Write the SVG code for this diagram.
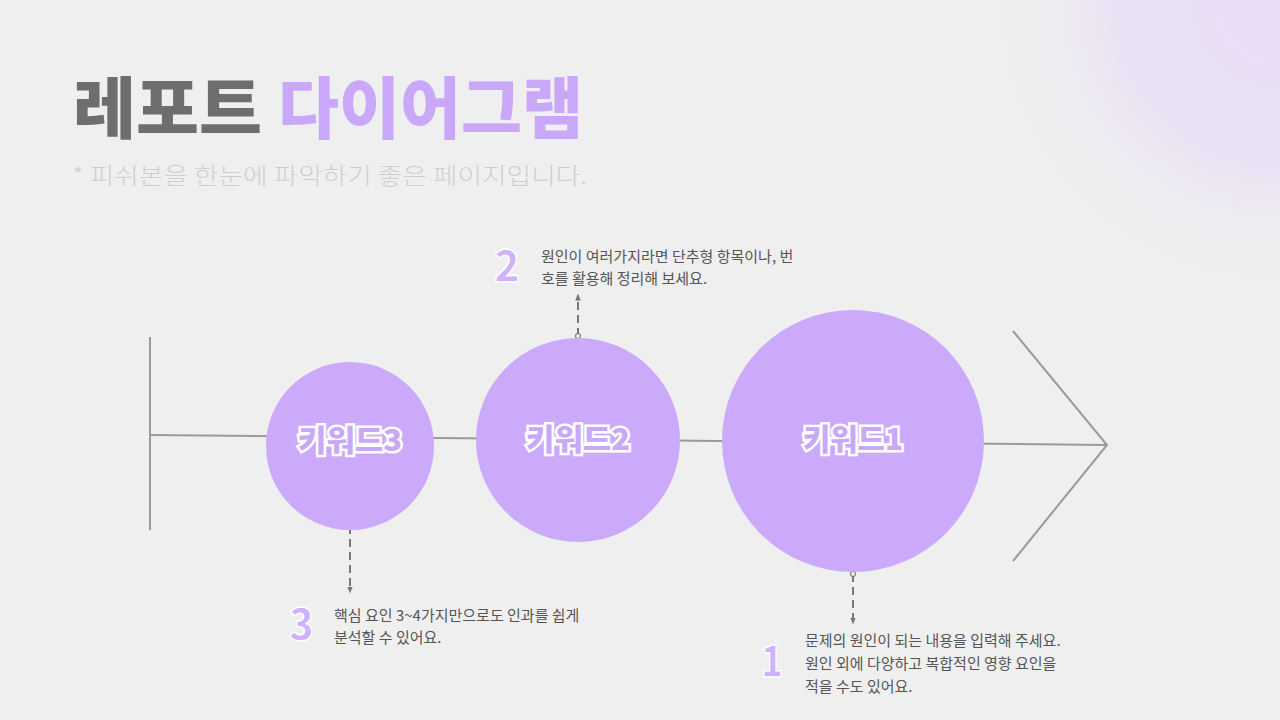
<svg xmlns="http://www.w3.org/2000/svg" width="1280" height="720" viewBox="0 0 1280 720">
<defs>
<radialGradient id="glow" cx="1280" cy="0" r="300" gradientUnits="userSpaceOnUse">
<stop offset="0" stop-color="#e8dcf6"/>
<stop offset="0.55" stop-color="#eae2f4"/>
<stop offset="1" stop-color="#efefef" stop-opacity="0"/>
</radialGradient>
<marker id="arrow" viewBox="0 0 10 10" refX="5" refY="5" markerWidth="7" markerHeight="7" orient="auto-start-reverse" markerUnits="userSpaceOnUse">
<path d="M0,1 L10,5 L0,9 z" fill="#777"/>
</marker>
<marker id="dot" viewBox="0 0 10 10" refX="5" refY="5" markerWidth="7" markerHeight="7" markerUnits="userSpaceOnUse">
<circle cx="5" cy="5" r="3.5" fill="#efefef" stroke="#777" stroke-width="1.5"/>
</marker>
</defs>
<style>
.bone{stroke:#9a9a9a;stroke-width:2;fill:none}
.dash{stroke:#777;stroke-width:2;stroke-dasharray:8 5;fill:none}
.ball{fill:#cbaafc}
.kw{font-family:"Noto Sans CJK KR","Noto Sans",sans-serif;font-weight:900;font-size:30px;fill:#c9a8fa;stroke:#ffffff;stroke-width:5;paint-order:stroke;stroke-linejoin:miter;text-anchor:middle}
.body{font-family:"Noto Sans CJK KR","Noto Sans",sans-serif;font-size:15px;fill:#555555}
.num{font-family:"Noto Sans CJK KR","Noto Sans",sans-serif;font-weight:900;font-size:44px;fill:#cfb2fb;stroke:#ffffff;stroke-width:1.5;paint-order:fill}
</style>
<rect width="1280" height="720" fill="#efefef"/>
<rect width="1280" height="720" fill="url(#glow)"/>

<g id="title">
<text x="73" y="133" font-family="Noto Sans CJK KR, sans-serif" font-weight="900" font-size="67" fill="#6e6e6e" textLength="189" lengthAdjust="spacingAndGlyphs">레포트</text>
<text x="278" y="133" font-family="Noto Sans CJK KR, sans-serif" font-weight="900" font-size="67" fill="#c9a8fa" textLength="305" lengthAdjust="spacingAndGlyphs">다이어그램</text>
<text x="72" y="184" font-family="Noto Sans CJK KR, sans-serif" font-weight="300" font-size="23" fill="#cfcfcf" textLength="515" lengthAdjust="spacingAndGlyphs">* 피쉬본을 한눈에 파악하기 좋은 페이지입니다.</text>
</g>

<g id="connectors">
<line class="bone" x1="150" y1="337" x2="150" y2="530"/>
<line class="bone" x1="150" y1="435" x2="1107" y2="445"/>
<polyline class="bone" points="1013,331 1107,445 1013,561"/>
<line class="dash" x1="578" y1="336" x2="578" y2="297" marker-start="url(#dot)" marker-end="url(#arrow)"/>
<line class="dash" x1="350" y1="526" x2="350" y2="590" marker-start="url(#dot)" marker-end="url(#arrow)"/>
<line class="dash" x1="853" y1="574" x2="853" y2="621" marker-start="url(#dot)" marker-end="url(#arrow)"/>
</g>

<g id="node-keyword3">
<circle class="ball" cx="350" cy="446" r="84"/>
<text class="kw" x="350" y="451" textLength="104" lengthAdjust="spacingAndGlyphs">키워드3</text>
</g>
<g id="node-keyword2">
<circle class="ball" cx="578" cy="440" r="102"/>
<text class="kw" x="578" y="450" textLength="104" lengthAdjust="spacingAndGlyphs">키워드2</text>
</g>
<g id="node-keyword1">
<circle class="ball" cx="853" cy="441" r="131"/>
<text class="kw" x="853" y="450" textLength="100" lengthAdjust="spacingAndGlyphs">키워드1</text>
</g>

<g id="note-2">
<text class="num" x="494" y="282" textLength="26" lengthAdjust="spacingAndGlyphs">2</text>
<text class="body" x="541" y="262">원인이 여러가지라면 단추형 항목이나, 번</text>
<text class="body" x="541" y="284">호를 활용해 정리해 보세요.</text>
</g>
<g id="note-3">
<text class="num" x="289" y="640" textLength="25" lengthAdjust="spacingAndGlyphs">3</text>
<text class="body" x="334" y="621">핵심 요인 3~4가지만으로도 인과를 쉽게</text>
<text class="body" x="334" y="643">분석할 수 있어요.</text>
</g>
<g id="note-1">
<text class="num" x="761" y="677" textLength="22" lengthAdjust="spacingAndGlyphs">1</text>
<text class="body" x="805" y="646">문제의 원인이 되는 내용을 입력해 주세요.</text>
<text class="body" x="805" y="669">원인 외에 다양하고 복합적인 영향 요인을</text>
<text class="body" x="805" y="692">적을 수도 있어요.</text>
</g>
</svg>
